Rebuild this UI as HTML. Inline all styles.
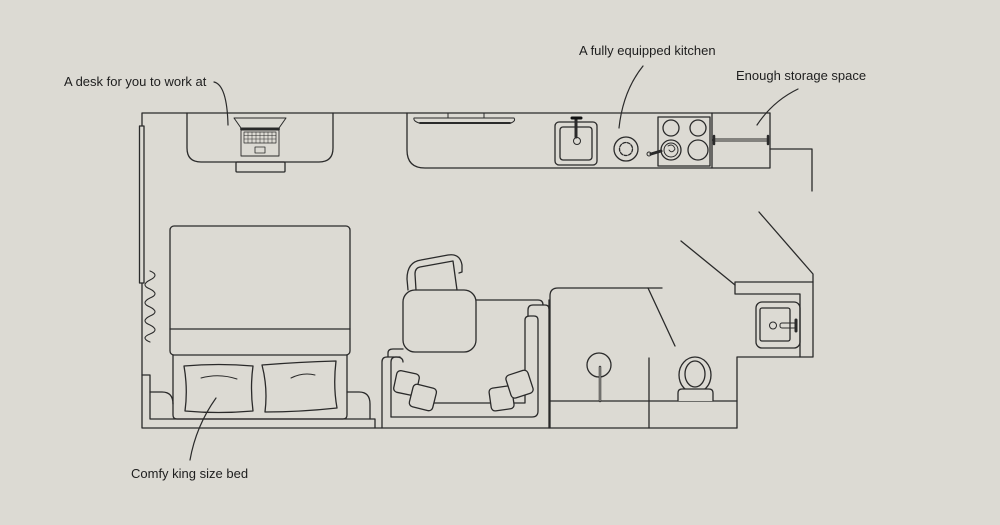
<!DOCTYPE html>
<html><head><meta charset="utf-8"><style>
html,body{margin:0;padding:0;background:#dcdad3;}
svg{display:block}
text{font-family:"Liberation Sans",sans-serif;font-size:13px;fill:#1e1e1e}
</style></head><body>
<svg width="1000" height="525" viewBox="0 0 1000 525" xmlns="http://www.w3.org/2000/svg">
<rect width="1000" height="525" fill="#dcdad3"/>
<g fill="none" stroke="#2a2a2a" stroke-width="1.3" stroke-linejoin="round" stroke-linecap="round">
<!-- outer walls -->
<path d="M770 113 H142 V428 H737"/>
<rect x="139.5" y="126" width="4.5" height="157" fill="#dcdad3"/>
<path d="M150 271 q10 4 0 9 q-10 5 0 9 q10 5 0 9 q-10 5 0 9 q10 5 0 9 q-10 5 0 9 q10 5 0 9 q-10 4 0 8" stroke-width="1.1"/>
<!-- desk -->
<path d="M187 113 V148 q0 14 14 14 H319 q14 0 14 -14 V113"/>
<rect x="236" y="162" width="49" height="10" rx="1"/>
<path d="M234 118 H286 L279 128 H241 Z" stroke-width="1"/>
<line x1="241" y1="129" x2="279" y2="129" stroke-width="2"/>
<rect x="241" y="130" width="38" height="26" stroke-width="0.9"/>
<rect x="244" y="132" width="32" height="11" stroke-width="0.7"/>
<path d="M244 135.5H276M244 139H276M248 132V143M252 132V143M256 132V143M260 132V143M264 132V143M268 132V143M272 132V143" stroke-width="0.5"/>
<rect x="255" y="147" width="10" height="6" stroke-width="0.8"/>
<!-- bed -->
<rect x="170" y="226" width="180" height="129" rx="4"/>
<line x1="170" y1="329" x2="350" y2="329"/>
<path d="M173 355 V415 q0 4 4 4 H343 q4 0 4 -4 V355"/>
<path d="M184 366 q35 -3 69 0 q-3 22 0 45 q-35 3 -68 0 q3 -22 -1 -45Z"/>
<path d="M262 365 q37 -3 74 -4 q-3 25 1 47 q-37 4 -72 4 q3 -24 -3 -47Z"/>
<path d="M201 378 q18 -5 36 1" stroke-width="1"/>
<path d="M291 378 q12 -6 24 -3" stroke-width="1"/>
<path d="M142 375 H150 V419 H375 V428"/>
<path d="M150 392 H162 q11 0 11 12"/>
<path d="M347 392 H359 q11 0 11 12 V419"/>
<!-- sofa / lounge -->
<path d="M382 428 V362 q0 -5 5 -5 H400"/>
<path d="M388 357 V353 q0 -4 5 -4 H403"/>
<path d="M391 417 V362 q0 -5 5 -5 q7 0 7 5"/>
<path d="M391 417 H532 q6 0 6 -6 V320 q0 -4 -4 -4 H530 q-5 0 -5 4 V403 H412"/>
<path d="M476 300 H538 q5 0 5 5"/>
<path d="M528 316 V310 q0 -5 5 -5 H545 q4 0 4 4"/>
<path d="M549 300 V428"/>
<rect x="403" y="290" width="73" height="62" rx="12"/>
<path d="M408 290 L407 279 q0 -17 14 -19 l27 -5 q12 -2 14 10 V272 L459 273 M416 290 L415 274 q0 -6 5 -7 l33 -6 L457 290" />
<g fill="#dcdad3">
<rect x="395" y="372" width="23" height="22" rx="4" transform="rotate(12 406 383)"/>
<rect x="411" y="386" width="24" height="23" rx="4" transform="rotate(14 423 397)"/>
<rect x="490" y="387" width="23" height="23" rx="4" transform="rotate(-8 501 398)"/>
<rect x="508" y="372" width="23" height="24" rx="4" transform="rotate(-18 520 384)"/>
</g>
<!-- kitchen -->
<path d="M407 113 V150 q0 18 18 18 H770 V113"/>
<rect x="448" y="113" width="36" height="5" stroke-width="1"/>
<path d="M414 118 H514 q2 3 -3 5 H419 q-6 -2 -5 -5Z" stroke-width="1"/>
<line x1="420" y1="123" x2="510" y2="123" stroke-width="2"/>
<rect x="555" y="122" width="42" height="43" rx="4"/>
<rect x="560" y="127" width="32" height="33" rx="3"/>
<line x1="576" y1="118" x2="576" y2="137" stroke-width="3"/>
<line x1="572" y1="118" x2="581" y2="118" stroke="#111" stroke-width="3"/>
<circle cx="577" cy="141" r="3.5" stroke-width="1"/>
<circle cx="626" cy="149" r="12"/>
<circle cx="626" cy="149" r="6.5" stroke-dasharray="3 1.5"/>
<rect x="658" y="117" width="52" height="49"/>
<circle cx="671" cy="128" r="8"/><circle cx="698" cy="128" r="8"/>
<circle cx="671" cy="150" r="10"/><circle cx="698" cy="150" r="10"/>
<circle cx="671" cy="150" r="7" stroke-width="1"/>
<path d="M661 151 L651 154" stroke-width="3"/>
<circle cx="649" cy="154" r="2" stroke-width="1"/>
<path d="M668 146 q5 -3 7 3 q-3 5 -6 1" stroke-width="0.9"/>
<path d="M712 113 V168"/>
<line x1="714" y1="140" x2="767" y2="140" stroke-width="3"/>
<line x1="714" y1="140" x2="767" y2="140" stroke="#dcdad3" stroke-width="1"/>
<line x1="714" y1="136" x2="714" y2="144" stroke-width="2.5"/>
<line x1="768" y1="136" x2="768" y2="144" stroke-width="2.5"/>
<path d="M770 149 H812 V191"/>
<!-- entrance / bathroom -->
<path d="M759 212 L813 274 V357 H737 V428"/>
<path d="M681 241 L735 285"/>
<path d="M813 282 H735 V294 H800 V357"/>
<rect x="756" y="302" width="44" height="46" rx="6"/>
<rect x="760" y="308" width="30" height="33" rx="2"/>
<rect x="780" y="323" width="16" height="5" rx="2" stroke-width="1"/>
<line x1="796" y1="320" x2="796" y2="331" stroke-width="3"/>
<circle cx="773" cy="325.5" r="3.5" stroke-width="1"/>
<path d="M550 428 V296 q0 -8 8 -8 H662"/>
<path d="M648 288 L675 346"/>
<path d="M550 401 H737"/>
<path d="M649 358 V428"/>
<circle cx="599" cy="365" r="12"/>
<path d="M600 367 V401" stroke-width="2.5"/>
<path d="M600 367 V401" stroke="#dcdad3" stroke-width="0.8"/>
<ellipse cx="695" cy="375" rx="16" ry="18"/>
<ellipse cx="695" cy="374" rx="10" ry="13"/>
<path d="M678 401 V393 q0 -4 4 -4 H709 q4 0 4 4 V401" fill="#dcdad3"/>
<!-- leaders -->
<path d="M214 82 q13 3 14 43" stroke-width="1.2"/>
<path d="M643 66 q-20 25 -24 62" stroke-width="1.2"/>
<path d="M798 89 q-25 12 -41 36" stroke-width="1.2"/>
<path d="M216 398 q-20 28 -26 62" stroke-width="1.2"/>
</g>
<text x="64" y="86">A desk for you to work at</text>
<text x="579" y="55">A fully equipped kitchen</text>
<text x="736" y="80">Enough storage space</text>
<text x="131" y="478">Comfy king size bed</text>
</svg>
</body></html>
